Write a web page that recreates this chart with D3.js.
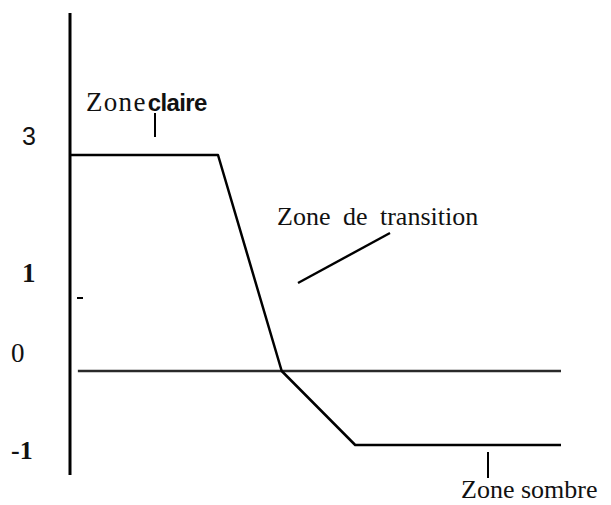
<!DOCTYPE html>
<html lang="fr">
<head>
    <meta charset="UTF-8">
    <title>Zones</title>
    <script src="https://d3js.org/d3.v7.min.js"></script>
    <style>
        body { margin: 0; background: #fff; }
        svg { display: block; background: #fff; }
        .serif { font-family: "Liberation Serif", "DejaVu Serif", serif; fill: #111; }
        .sans { font-family: "Liberation Sans", Arial, sans-serif; fill: #111; }
    </style>
</head>
<body>
    <script>
        // curve (arbitrary x units, y levels)
        const curveX = [0, 30, 43, 58, 100];
        const curveY = [3, 3, 0, -1, -1];

        // horizontal reference line at 0
        const refX = [1.4, 100];
        const refY = [0, 0];

        // y levels and their labels
        const yLevels = [3, 1, 0, -1];
        const yLabels = ["3", "1", "0", "-1"];

        // zone labels
        const zoneNames = ["Zone claire", "Zone de transition", "Zone sombre"];

        const W = 611, H = 505;

        const svg = d3.select("body").append("svg")
            .attr("width", W)
            .attr("height", H);

        const x = d3.scaleLinear().domain([0, 100]).range([71, 561]);
        const y = d3.scaleLinear().domain([-1, 0, 1, 3]).range([445, 371, 298, 155]);

        // vertical axis
        svg.append("line")
            .attr("x1", 70).attr("x2", 70)
            .attr("y1", 13).attr("y2", 475)
            .attr("stroke", "#000").attr("stroke-width", 3);

        // reference line at 0
        const line = d3.line().x(d => x(d[0])).y(d => y(d[1]));
        svg.append("path")
            .datum(d3.zip(refX, refY))
            .attr("d", line)
            .attr("fill", "none")
            .attr("stroke", "#2a2a2a")
            .attr("stroke-width", 2.4);

        // main curve
        svg.append("path")
            .datum(d3.zip(curveX, curveY))
            .attr("d", line)
            .attr("fill", "none")
            .attr("stroke", "#000")
            .attr("stroke-width", 2.5)
            .attr("stroke-linejoin", "round");

        // small tick at level 1
        svg.append("line")
            .attr("x1", 77).attr("x2", 83)
            .attr("y1", y(1)).attr("y2", y(1))
            .attr("stroke", "#000").attr("stroke-width", 2);

        // y labels (hand placed like the original scan)
        const labelStyle = [
            { cls: "sans", weight: "normal", size: 25, dx: 22, dy: -10 },
            { cls: "serif", weight: "bold", size: 27, dx: 22, dy: -16 },
            { cls: "serif", weight: "normal", size: 27, dx: 11, dy: -9 },
            { cls: "serif", weight: "bold", size: 26, dx: 11, dy: 14 }
        ];
        svg.selectAll(".ylab")
            .data(yLevels)
            .join("text")
            .attr("class", (d, i) => "ylab " + labelStyle[i].cls)
            .attr("x", (d, i) => labelStyle[i].dx)
            .attr("y", (d, i) => y(d) + labelStyle[i].dy)
            .attr("font-size", (d, i) => labelStyle[i].size)
            .attr("font-weight", (d, i) => labelStyle[i].weight)
            .text((d, i) => yLabels[i]);

        // Zone claire
        const claire = zoneNames[0].split(" ");
        const tc = svg.append("text").attr("x", 86).attr("y", 111);
        tc.append("tspan").attr("class", "serif")
            .attr("font-size", 27).attr("letter-spacing", 1.3)
            .text(claire[0]);
        tc.append("tspan").attr("class", "sans")
            .attr("dx", 1)
            .attr("font-size", 24).attr("font-weight", "bold")
            .attr("letter-spacing", -0.6)
            .text(claire[1]);
        svg.append("line")
            .attr("x1", 155).attr("x2", 155)
            .attr("y1", 113).attr("y2", 137)
            .attr("stroke", "#000").attr("stroke-width", 2);

        // Zone de transition
        svg.append("text")
            .attr("class", "serif")
            .attr("x", 277).attr("y", 225)
            .attr("font-size", 26)
            .attr("word-spacing", 6)
            .text(zoneNames[1]);
        svg.append("line")
            .attr("x1", 298).attr("y1", 283)
            .attr("x2", 390).attr("y2", 233)
            .attr("stroke", "#000").attr("stroke-width", 2.4);

        // Zone sombre
        svg.append("line")
            .attr("x1", 488).attr("x2", 488)
            .attr("y1", 452).attr("y2", 478)
            .attr("stroke", "#000").attr("stroke-width", 2);
        svg.append("text")
            .attr("class", "serif")
            .attr("x", 461).attr("y", 498)
            .attr("font-size", 26)
            .text(zoneNames[2]);
    </script>
</body>
</html>
